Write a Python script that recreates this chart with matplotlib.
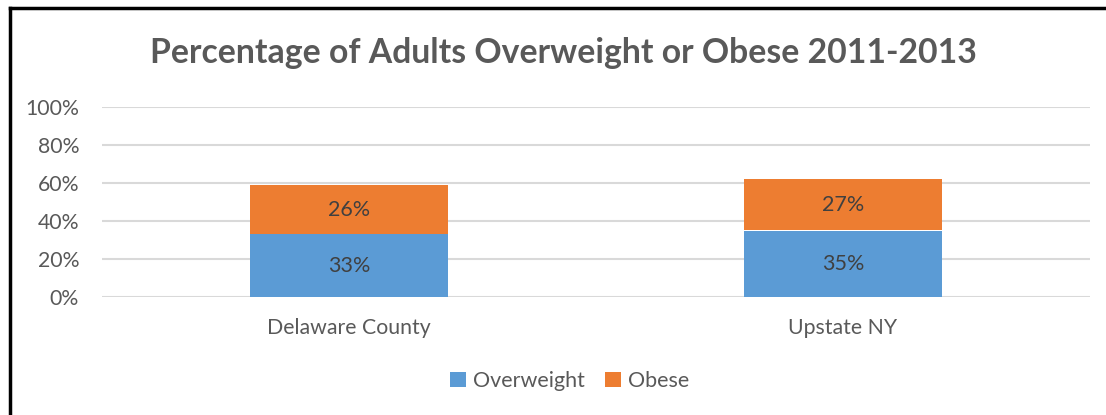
import matplotlib.pyplot as plt
import numpy as np
from matplotlib.lines import Line2D

categories = ['Delaware County', 'Upstate NY']
overweight = [33, 35]
obese = [26, 27]
yticks = [0, 20, 40, 60, 80, 100]

plt.rcParams['font.family'] = ['Lato', 'DejaVu Sans']
gray = '#595959'
blue = '#5B9BD5'
orange = '#ED7D31'

fig = plt.figure(figsize=(11.06, 4.15), dpi=100)
ax = fig.add_axes([102 / 1106, 1 - 297 / 415, 988 / 1106, 190 / 415])

x = np.arange(len(categories))
ax.bar(x, overweight, width=0.4, color=blue, label='Overweight', zorder=3)
ax.bar(x, obese, width=0.4, bottom=overweight, color=orange, label='Obese', zorder=3)

for i in range(len(categories)):
    ax.text(x[i], overweight[i] / 2, f'{overweight[i]}%', ha='center', va='center',
            fontsize=15.5, color='#404040', zorder=4)
    ax.text(x[i], overweight[i] + obese[i] / 2, f'{obese[i]}%', ha='center', va='center',
            fontsize=15.5, color='#404040', zorder=4)

ax.set_xlim(-0.5, 1.5)
ax.set_ylim(0, 100)
ax.set_yticks(yticks)
ax.set_yticklabels([f'{t}%' for t in yticks])
ax.set_xticks(x)
ax.set_xticklabels(categories)
ax.tick_params(length=0, labelsize=15.3, colors=gray)
ax.tick_params(axis='x', pad=15)
ax.tick_params(axis='y', pad=16.5)
ax.grid(axis='y', color='#D9D9D9', linewidth=1.5, zorder=0)
for s in ax.spines.values():
    s.set_visible(False)

fig.text(0.509, 1 - 53 / 415, 'Percentage of Adults Overweight or Obese 2011-2013',
         ha='center', va='center', fontsize=24.3, fontweight='bold', color=gray)

fig.legend(loc='center', bbox_to_anchor=(569.5 / 1106, 1 - 381 / 415), ncol=2, frameon=False,
           fontsize=15.5, handlelength=0.75, handleheight=0.75, handletextpad=0.3,
           columnspacing=0.95, labelcolor=gray)

# black frame around the chart (cut off at right and bottom)
fig.add_artist(Line2D([9.5 / 1106, 9.5 / 1106], [0, 1 - 8.5 / 415], color='black',
                      linewidth=2.5, transform=fig.transFigure, solid_capstyle='projecting'))
fig.add_artist(Line2D([9.5 / 1106, 1], [1 - 8.5 / 415, 1 - 8.5 / 415], color='black',
                      linewidth=2.5, transform=fig.transFigure, solid_capstyle='projecting'))

fig.savefig('out.png', dpi=100)
